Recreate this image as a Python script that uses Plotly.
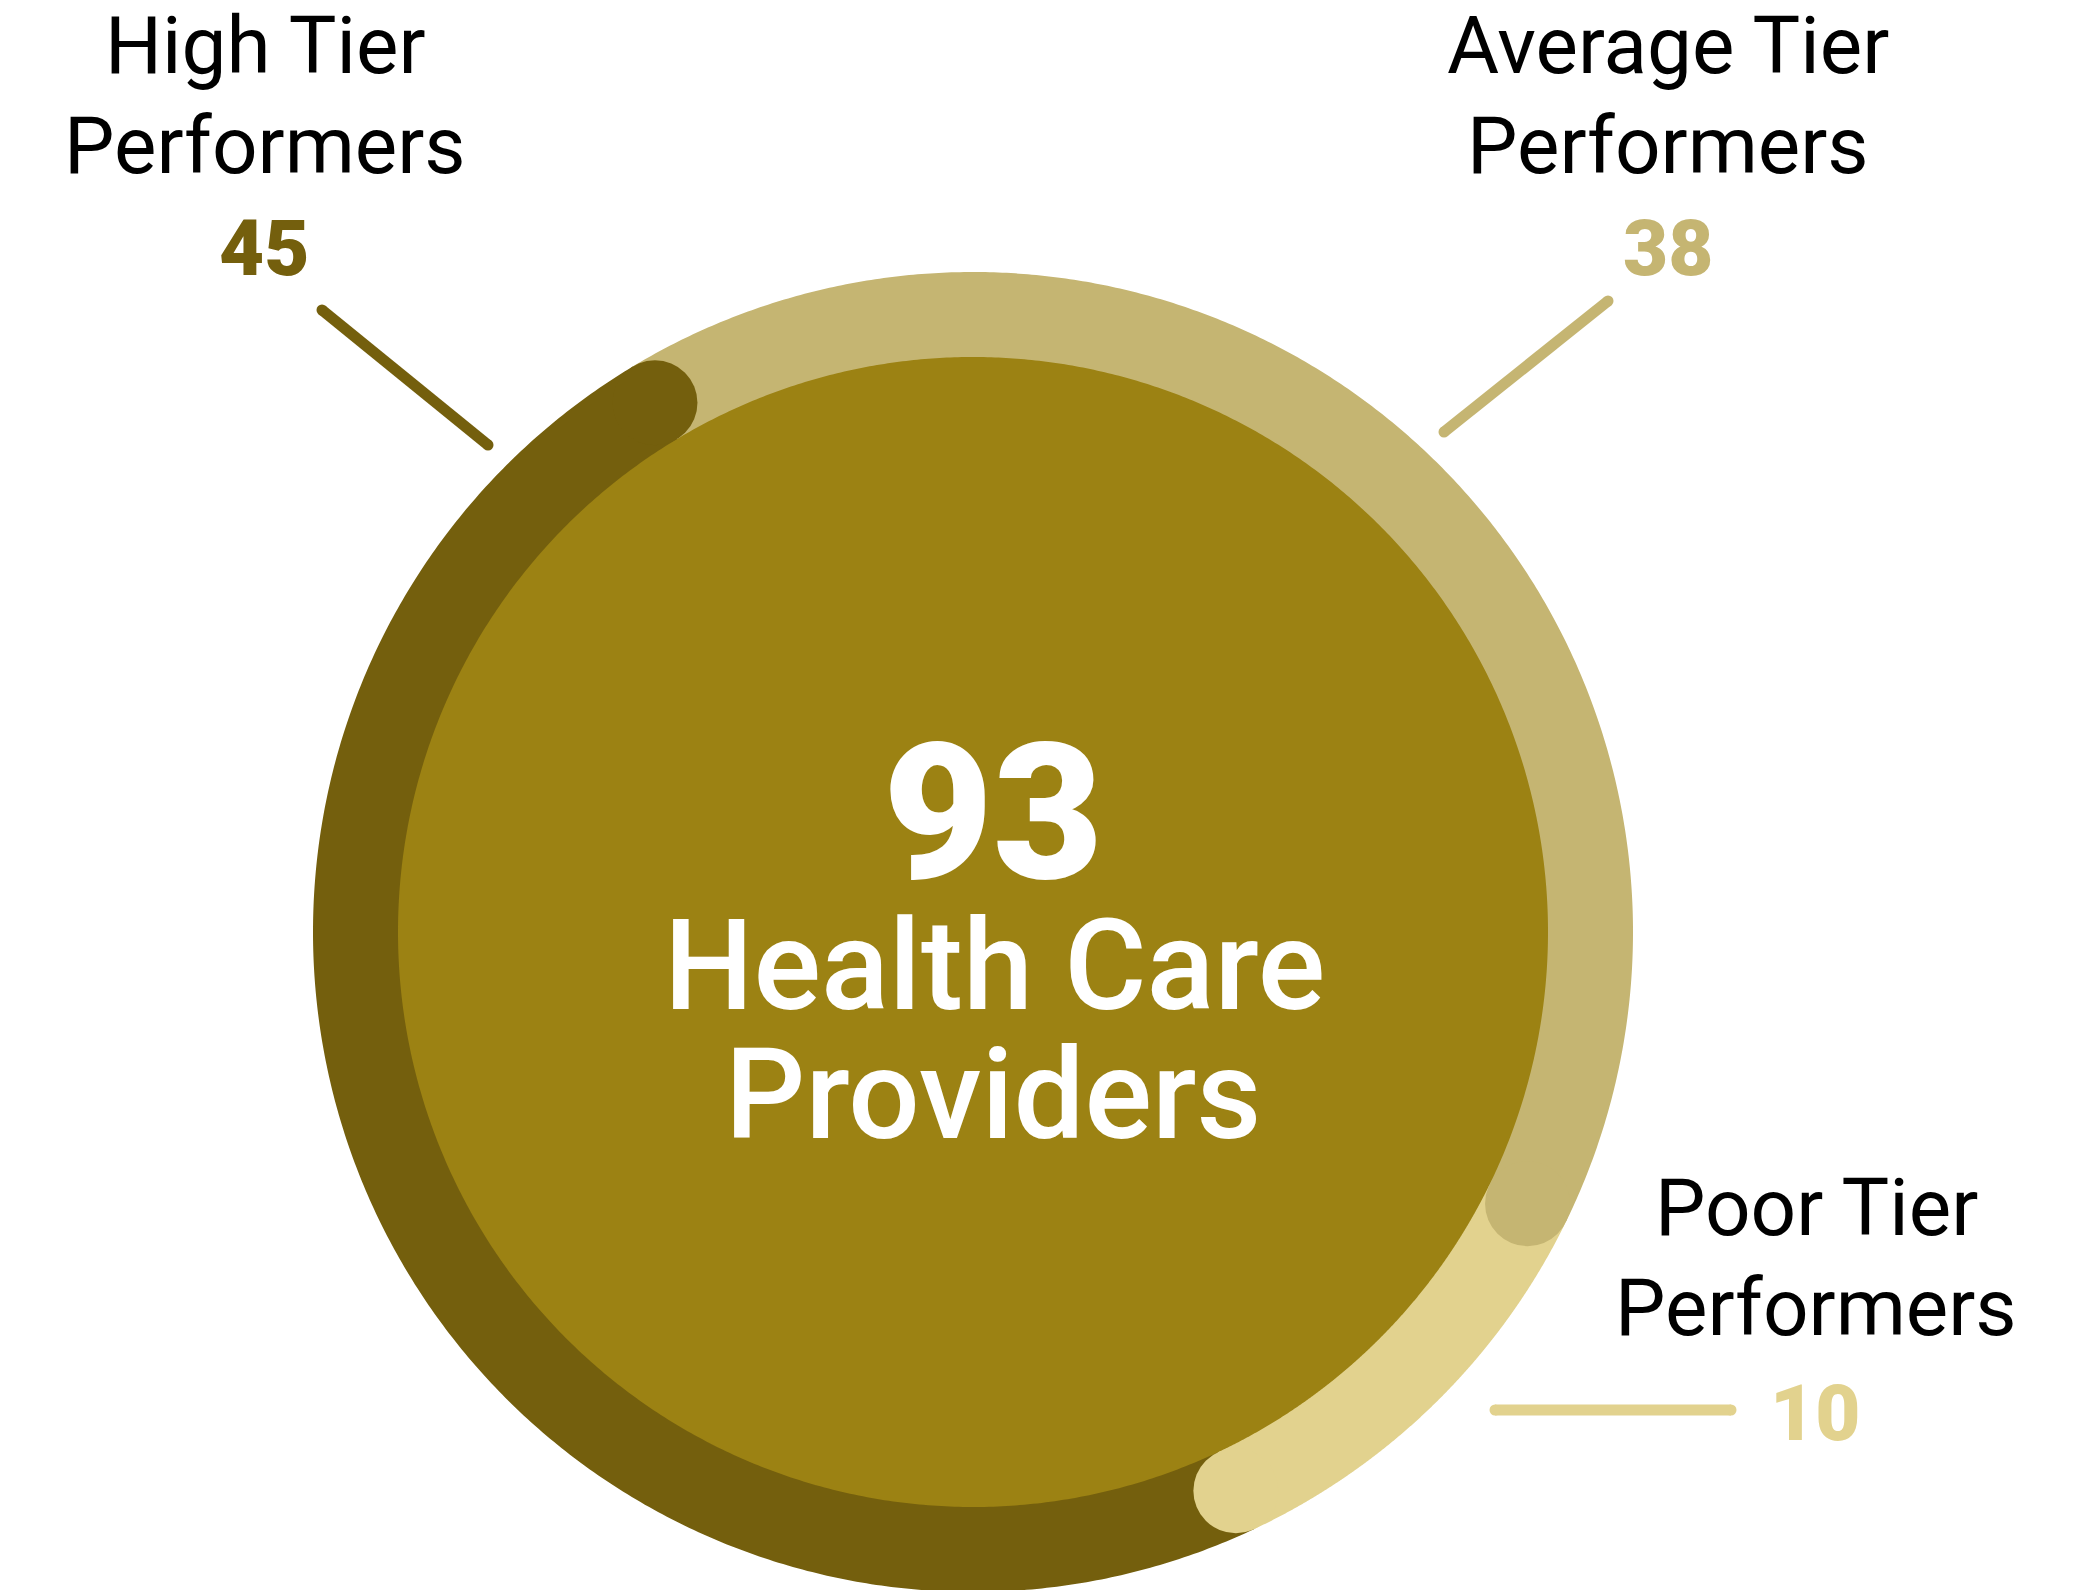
import numpy as np
import plotly.graph_objects as go

# ---- data -------------------------------------------------------------
categories = ["High Tier Performers", "Average Tier Performers", "Poor Tier Performers"]
label_lines = [["High Tier", "Performers"], ["Average Tier", "Performers"], ["Poor Tier", "Performers"]]
counts = [45, 38, 10]
center_lines = ["Health Care", "Providers"]

# ---- styling ------------------------------------------------------------
seg_colors = ["#745F0D", "#C5B572", "#E2D28E"]
DISK_COLOR = "#9C8213"
W, H = 2096, 1590
CX, CY = 973, 932
R_OUT, R_IN = 660, 575
R_MID = (R_OUT + R_IN) / 2
CAP_R = (R_OUT - R_IN) / 2
START_DEG = 329.0          # clockwise from 12 o'clock
RING_ORDER = [1, 2, 0]     # Average, Poor, High going clockwise
LABEL_FONT = "Roboto"


def pt(r, deg):
    t = np.radians(deg)
    return CX + r * np.sin(t), CY - r * np.cos(t)


def band_path(a0, a1, n=400):
    t = np.linspace(a0, a1, n)
    xo, yo = pt(R_OUT, t)
    xi, yi = pt(R_IN, t[::-1])
    xs = np.concatenate([xo, xi])
    ys = np.concatenate([yo, yi])
    return "M " + " L ".join(f"{x:.2f},{y:.2f}" for x, y in zip(xs, ys)) + " Z"


shapes = []

# inner filled disk
shapes.append(dict(type="circle", xref="x", yref="y",
                   x0=CX - R_IN - 1, x1=CX + R_IN + 1, y0=CY - R_IN - 1, y1=CY + R_IN + 1,
                   fillcolor=DISK_COLOR, line=dict(width=0), layer="below"))

# ring segments
total = sum(counts)
a = START_DEG
ends = {}
for i in RING_ORDER:
    span = counts[i] / total * 360.0
    shapes.append(dict(type="path", xref="x", yref="y", path=band_path(a, a + span),
                       fillcolor=seg_colors[i], line=dict(width=0), layer="below"))
    ends[i] = a + span
    a += span

# rounded caps at the clockwise end of every segment
for i in RING_ORDER:
    ex, ey = pt(R_MID, ends[i])
    shapes.append(dict(type="circle", xref="x", yref="y",
                       x0=ex - CAP_R, x1=ex + CAP_R, y0=ey - CAP_R, y1=ey + CAP_R,
                       fillcolor=seg_colors[i], line=dict(width=0), layer="below"))

fig = go.Figure()

# ---- leader lines -------------------------------------------------------
leaders = {
    0: ((322, 310), (488, 445)),
    1: ((1608, 301), (1444, 432)),
    2: ((1495, 1410), (1731, 1410)),
}
for i, ((x0, y0), (x1, y1)) in leaders.items():
    fig.add_trace(go.Scatter(x=[x0, x1], y=[y0, y1], mode="lines+markers",
                             line=dict(color=seg_colors[i], width=11),
                             marker=dict(color=seg_colors[i], size=11, line=dict(width=0)),
                             name=categories[i], hoverinfo="skip", showlegend=False))

# ---- labels -------------------------------------------------------------
label_anchor = {0: (265, 46), 1: (1668, 46), 2: (1816, 1208)}
value_anchor = {0: (264, 248), 1: (1668, 248), 2: (1815, 1413)}
annotations = []
for i in range(3):
    x, y = label_anchor[i]
    for k, line in enumerate(label_lines[i]):
        annotations.append(dict(x=x, y=y + 100 * k, text=line, showarrow=False,
                                xanchor="center", yanchor="middle",
                                font=dict(family=LABEL_FONT, size=80, color="#000000")))
    vx, vy = value_anchor[i]
    annotations.append(dict(x=vx, y=vy, text=str(counts[i]), showarrow=False,
                            xanchor="center", yanchor="middle",
                            font=dict(family=LABEL_FONT, size=78, color=seg_colors[i], weight=900)))

# centre block: total plus caption, boxes trimmed to the glyph height
annotations.append(dict(x=993, y=813, text=str(total), showarrow=False,
                        xanchor="center", yanchor="middle", height=150, valign="middle",
                        font=dict(family=LABEL_FONT, size=190, color="#FFFFFF", weight=900)))
annotations.append(dict(x=994, y=966, text=center_lines[0], showarrow=False,
                        xanchor="center", yanchor="middle", height=120, valign="middle",
                        font=dict(family=LABEL_FONT, size=126, color="#FFFFFF", weight=500)))
annotations.append(dict(x=993, y=1095, text=center_lines[1], showarrow=False,
                        xanchor="center", yanchor="middle", height=120, valign="middle",
                        font=dict(family=LABEL_FONT, size=126, color="#FFFFFF", weight=500)))

fig.update_layout(
    width=W, height=H, autosize=False,
    margin=dict(l=0, r=0, t=0, b=0, pad=0),
    paper_bgcolor="#FFFFFF", plot_bgcolor="#FFFFFF",
    xaxis=dict(range=[0, W], visible=False, fixedrange=True, domain=[0, 1]),
    yaxis=dict(range=[H, 0], visible=False, fixedrange=True, domain=[0, 1]),
    shapes=shapes,
    annotations=annotations,
    showlegend=False,
)

fig.write_html("out.html", config={"displayModeBar": False})
